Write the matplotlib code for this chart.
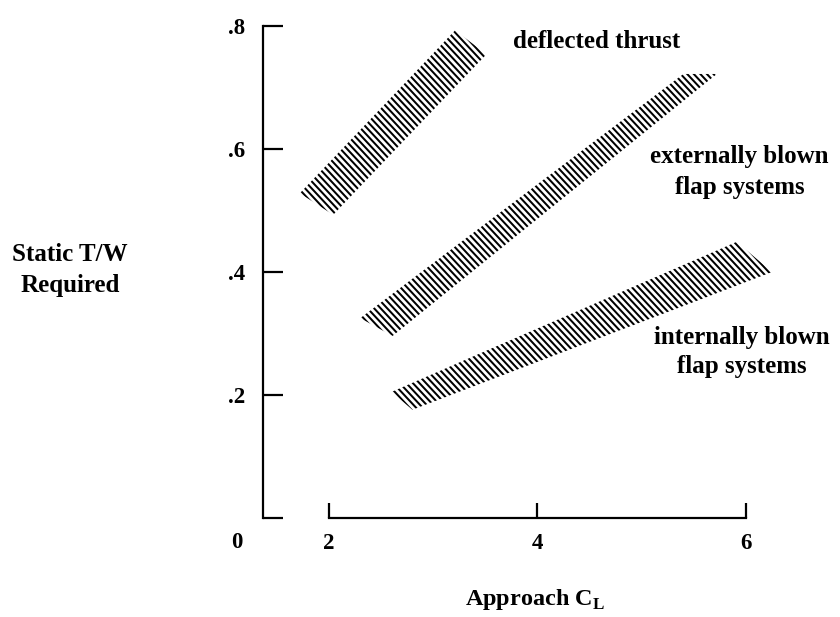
"""
Static T/W required vs approach CL for powered-lift concepts.
"""

import numpy as np
import matplotlib
matplotlib.use("Agg")
import matplotlib.pyplot as plt
from matplotlib.patches import Polygon
from matplotlib.collections import LineCollection

# band outlines (approach CL, static T/W)
deflected_cl = [1.72, 3.21, 3.51, 2.04]
deflected_tw = [0.528, 0.793, 0.754, 0.493]
external_cl = [2.30, 5.40, 5.72, 2.61]
external_tw = [0.325, 0.722, 0.722, 0.296]
internal_cl = [2.60, 5.91, 6.25, 2.80]
internal_tw = [0.205, 0.449, 0.400, 0.176]

x_ticks = [2, 4, 6]
x_tick_labels = ["2", "4", "6"]
y_ticks = [0, 0.2, 0.4, 0.6, 0.8]
y_tick_labels = ["", ".2", ".4", ".6", ".8"]

FONT = "Liberation Serif"
plt.rcParams["font.family"] = FONT
plt.rcParams["font.weight"] = "bold"
plt.rcParams["mathtext.fontset"] = "custom"
plt.rcParams["mathtext.rm"] = FONT + ":bold"
plt.rcParams["mathtext.bf"] = FONT + ":bold"


def hatch_band(ax, xs, ys, angle=47.0, spacing=4.8, lw=1.45):
    # parallel hatch lines in screen space, clipped to the band outline
    poly = Polygon(np.column_stack([xs, ys]), closed=True,
                   facecolor="none", edgecolor="none")
    ax.add_patch(poly)
    pts = ax.transData.transform(np.column_stack([xs, ys]))
    a = np.radians(angle)
    u = np.array([np.cos(a), -np.sin(a)])
    n = np.array([np.sin(a), np.cos(a)])
    pn = pts @ n
    pu = pts @ u
    inv = ax.transData.inverted()
    segs = []
    for k in np.arange(pn.min() + spacing / 2, pn.max(), spacing):
        p0 = k * n + (pu.min() - 5) * u
        p1 = k * n + (pu.max() + 5) * u
        segs.append(inv.transform(np.array([p0, p1])))
    lc = LineCollection(segs, colors="black", linewidths=lw)
    lc.set_clip_path(poly)
    ax.add_collection(lc, autolim=False)


fig = plt.figure(figsize=(8.4, 6.17), dpi=100)
ax = fig.add_axes([263 / 840, 99 / 617, 527 / 840, 0.84 * 615 / 617])
ax.set_xlim(1.367, 6.422)
ax.set_ylim(0, 0.84)

for side in ("top", "right"):
    ax.spines[side].set_visible(False)
ax.spines["left"].set_bounds(0, 0.8)
ax.spines["bottom"].set_bounds(2, 6)
for side in ("left", "bottom"):
    ax.spines[side].set_linewidth(1.6)

ax.set_xticks(x_ticks)
ax.set_xticklabels(x_tick_labels)
ax.set_yticks(y_ticks)
ax.set_yticklabels(y_tick_labels)
ax.tick_params(axis="x", direction="in", length=10.8, width=1.6, pad=11, labelsize=16.5)
ax.tick_params(axis="y", direction="in", length=14.4, width=1.6, pad=13, labelsize=16.5)
for lab in ax.get_xticklabels() + ax.get_yticklabels():
    lab.set_fontweight("bold")

ax.annotate("0", xy=(0, 0), xycoords="axes fraction", xytext=(-18.7, -18),
            textcoords="offset points", ha="center", va="center",
            fontsize=16.5, fontweight="bold")

hatch_band(ax, deflected_cl, deflected_tw)
hatch_band(ax, external_cl, external_tw)
hatch_band(ax, internal_cl, internal_tw)

ax.text(3.765, 0.774, "deflected thrust", ha="left", va="center",
        fontsize=18, fontweight="bold")
ax.text(5.94, 0.5626, "externally blown\nflap systems", ha="center", va="center",
        multialignment="center", linespacing=1.4, fontsize=18, fontweight="bold")
ax.text(5.96, 0.270, "internally blown\nflap systems", ha="center", va="center",
        multialignment="center", linespacing=1.35, fontsize=18, fontweight="bold")

fig.text(70 / 840, 1 - 270 / 617, "Static T/W\nRequired", ha="center", va="center",
         multialignment="center", linespacing=1.45, fontsize=18, fontweight="bold")
fig.text(535 / 840, 1 - 600 / 617, r"Approach C$_{\mathrm{L}}$", ha="center",
         va="center", fontsize=17.5, fontweight="bold")

fig.savefig("out.png", dpi=100)
plt.close(fig)
